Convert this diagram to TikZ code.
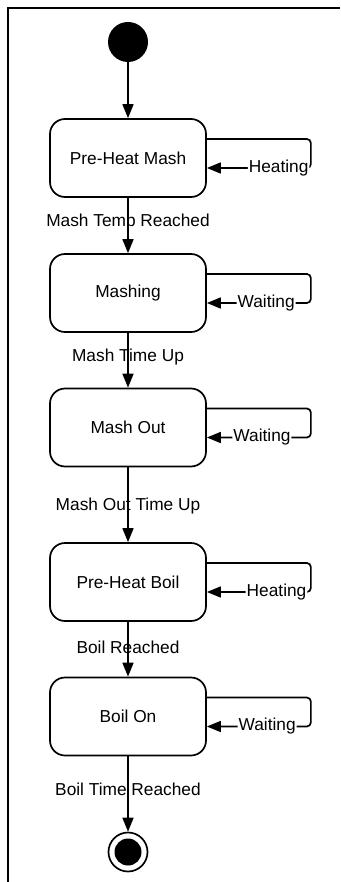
\documentclass[tikz,border=0pt]{standalone}
\usepackage{fontspec}
\setmainfont{Liberation Sans}
\usetikzlibrary{arrows.meta}
\begin{document}
\begin{tikzpicture}[x=1pt,y=-1pt,
  font=\fontsize{17.3}{20}\selectfont,
  state/.style={draw, line width=1.7pt, rounded corners=15pt,
    minimum width=156pt, minimum height=78pt, inner sep=0pt},
  flow/.style={line width=1.7pt, -{Triangle[length=14pt,width=11pt]}},
  loop/.style={flow, rounded corners=4pt},
  lbl/.style={fill=white, inner sep=1pt},
  tlbl/.style={inner sep=1pt}]
\useasboundingbox (0,0) rectangle (340,882);
% frame edges
\draw[line width=2pt] (8,882) -- (8,8) -- (340,8);

% states
\node[circle, fill=black, minimum size=40pt, inner sep=0pt] (init) at (128,42) {};
\node[state] (s1) at (128,158) {Pre-Heat Mash};
\node[state] (s2) at (128,293) {Mashing};
\node[state] (s3) at (128,427.5) {Mash Out};
\node[state] (s4) at (128,582) {Pre-Heat Boil};
\node[state] (s5) at (128,716.5) {Boil On};
\node[circle, draw, line width=1.7pt, minimum size=39pt, inner sep=0pt] (fin) at (128,852) {};
\node[circle, fill=black, minimum size=27pt, inner sep=0pt] (fincore) at (fin) {};

% transitions
\draw[flow] (init) -- (s1);
\draw[flow] (s1) -- node[tlbl, pos=0.44]{Mash Temp Reached} (s2);
\draw[flow] (s2) -- node[tlbl, pos=0.44]{Mash Time Up} (s3);
\draw[flow] (s3) -- node[tlbl, pos=0.52]{Mash Out Time Up} (s4);
\draw[flow] (s4) -- node[tlbl, pos=0.46]{Boil Reached} (s5);
\draw[flow] (s5) -- node[tlbl, pos=0.44]{Boil Time Reached} (fin);

% self loops
\draw[loop] ([yshift=19pt]s1.east) -- ++(104,0) -- ++(0,29)
  -- node[lbl, pos=0.31]{Heating} ([yshift=-10pt]s1.east);
\draw[loop] ([yshift=19pt]s2.east) -- ++(104,0) -- ++(0,29)
  -- node[lbl, pos=0.43]{Waiting} ([yshift=-10pt]s2.east);
\draw[loop] ([yshift=19pt]s3.east) -- ++(104,0) -- ++(0,29)
  -- node[lbl, pos=0.47]{Waiting} ([yshift=-10pt]s3.east);
\draw[loop] ([yshift=19pt]s4.east) -- ++(104,0) -- ++(0,29)
  -- node[lbl, pos=0.33]{Heating} ([yshift=-10pt]s4.east);
\draw[loop] ([yshift=19pt]s5.east) -- ++(104,0) -- ++(0,29)
  -- node[lbl, pos=0.42]{Waiting} ([yshift=-10pt]s5.east);
\end{tikzpicture}
\end{document}
